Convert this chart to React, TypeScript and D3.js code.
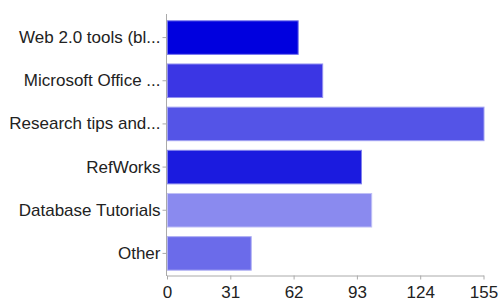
import React, { useEffect, useRef } from 'react'
import * as d3 from 'd3'

const categories = [
  'Web 2.0 tools (bl...',
  'Microsoft Office ...',
  'Research tips and...',
  'RefWorks',
  'Database Tutorials',
  'Other',
]
const values = [64, 76, 155, 95, 100, 41]
const barColors = ['#0000df', '#3b36e4', '#5454e7', '#1b1bdf', '#8a8aef', '#6b6bea']
const tickValues = [0, 31, 62, 93, 124, 155]

const App = () => {
  const ref = useRef<SVGSVGElement>(null)

  useEffect(() => {
    const width = 500
    const height = 301
    const margin = { top: 16, right: 16, bottom: 26, left: 167 }

    const svg = d3.select(ref.current)
    svg.selectAll('*').remove()

    const x = d3.scaleLinear()
      .domain([0, 155])
      .range([margin.left, width - margin.right - 0.5])
    const y = d3.scaleBand()
      .domain(categories)
      .range([margin.top, height - margin.bottom])
      .paddingInner(0.2)
      .paddingOuter(0.1)

    const g = svg.append('g')

    g.selectAll('rect.bar')
      .data(values)
      .enter()
      .append('rect')
      .attr('class', 'bar')
      .attr('x', x(0) + 0.5)
      .attr('y', (d, i) => y(categories[i])! + 0.5)
      .attr('width', d => x(d) - x(0))
      .attr('height', y.bandwidth() - 1)
      .attr('fill', (d, i) => barColors[i])
      .attr('stroke', (d, i) => d3.interpolateRgb(barColors[i], '#ffffff')(0.45))
      .attr('stroke-width', 1)

    // x axis
    const xAxis = g.append('g')
      .attr('transform', 'translate(0,' + (height - margin.bottom + 0.5) + ')')
      .call(d3.axisBottom(x).tickValues(tickValues).tickSize(4).tickSizeOuter(0).tickPadding(6))
    xAxis.select('.domain').attr('stroke', '#aaa')
    xAxis.selectAll('.tick line').attr('stroke', '#aaa')
    xAxis.selectAll('text')
      .attr('fill', '#222')
      .style('font-family', 'Liberation Sans, Arial, sans-serif')
      .style('font-size', '17px')

    // y axis
    const yAxis = g.append('g')
      .attr('transform', 'translate(' + (margin.left - 0.5) + ',0)')
      .call(d3.axisLeft(y).tickSize(4).tickSizeOuter(0).tickPadding(2))
    yAxis.select('.domain')
      .attr('stroke', '#aaa')
      .attr('d', 'M0,' + (margin.top - 2) + 'V' + (height - margin.bottom + 1))
    yAxis.selectAll('.tick line').attr('stroke', '#aaa')
    yAxis.selectAll('text')
      .attr('fill', '#222')
      .style('font-family', 'Liberation Sans, Arial, sans-serif')
      .style('font-size', '17px')
  }, [])

  return (
    <svg
      ref={ref}
      width={500}
      height={301}
      style={{ position: 'absolute', left: 0, top: 0, background: '#fff' }}
    />
  )
}

export default App
